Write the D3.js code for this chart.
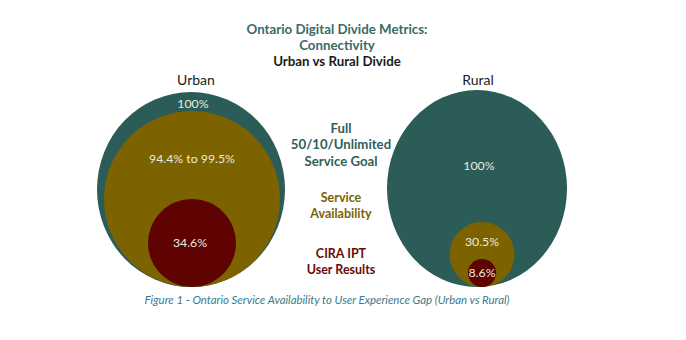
<!DOCTYPE html>
<html><head><meta charset="utf-8">
<script src="https://cdn.jsdelivr.net/npm/d3@7"></script>
<style>body{margin:0;background:#fff}svg{display:block}text{font-family:Lato,"Open Sans",sans-serif}</style>
</head><body>
<script>
// ---- data ----
const groups = ["Urban", "Rural"];
const layers = ["Full 50/10/Unlimited Service Goal", "Service Availability", "CIRA IPT User Results"];
const urbanLabels = ["100%", "94.4% to 99.5%", "34.6%"];
const ruralLabels = ["100%", "30.5%", "8.6%"];
// relative drawn radius of each circle (share of the outer circle)
const urbanSize = [1, 0.936, 0.468];
const ruralSize = [1, 0.361, 0.156];
const legendLines = [["Full", "50/10/Unlimited", "Service Goal"], ["Service", "Availability"], ["CIRA IPT", "User Results"]];
const titleLines = ["Ontario Digital Divide Metrics:", "Connectivity", "Urban vs Rural Divide"];
const caption = "Figure 1 - Ontario Service Availability to User Experience Gap (Urban vs Rural)";

const colors = ["#2b5c57", "#7c6300", "#5e0202"];
const W = 686, H = 340;
const svg = d3.select("body").append("svg").attr("width", W).attr("height", H);

// title
const titleColors = ["#3a6b66", "#3a6b66", "#1a1a1a"];
svg.selectAll("text.title").data(titleLines).join("text")
  .attr("x", 337).attr("y", (d, i) => 34 + i * 16)
  .attr("text-anchor", "middle").attr("font-weight", 700).attr("font-size", 13.3)
  .attr("fill", (d, i) => titleColors[i]).text(d => d);

const x = d3.scaleOrdinal().domain(groups).range([191, 477]);
const innerX = d3.scaleOrdinal().domain(groups).range([192, 482]);
const outerR = d3.scaleOrdinal().domain(groups).range([94, 90]);
const aspect = d3.scaleOrdinal().domain(groups).range([1.037, 1.094]);
const baseY = 287;

const charts = [
  {g: "Urban", sizes: urbanSize, labels: urbanLabels, labelY: [103, 158, 242]},
  {g: "Rural", sizes: ruralSize, labels: ruralLabels, labelY: [165, 241, 272]}
];

charts.forEach(c => {
  const r = d3.scaleLinear().domain([0, 1]).range([0, outerR(c.g)]);
  const grp = svg.append("g");
  grp.selectAll("ellipse").data(c.sizes).join("ellipse")
    .attr("cx", (d, i) => i === 0 ? x(c.g) : innerX(c.g))
    .attr("rx", d => r(d))
    .attr("ry", (d, i) => i === 0 ? r(d) * aspect(c.g) : r(d))
    .attr("cy", (d, i) => baseY - (i === 0 ? r(d) * aspect(c.g) : r(d)))
    .attr("fill", (d, i) => colors[i]);
  grp.selectAll("text").data(c.labels).join("text")
    .attr("x", (d, i) => i === 0 ? x(c.g) + 2 : innerX(c.g) - (c.g === "Urban" && i === 2 ? 2 : 0))
    .attr("y", (d, i) => c.labelY[i] + 4.5)
    .attr("text-anchor", "middle").attr("font-size", 12.3)
    .attr("fill", "#ecebdc").text(d => d);
  svg.append("text").attr("x", x(c.g) + (c.g === "Urban" ? 5 : 1)).attr("y", 85)
    .attr("text-anchor", "middle").attr("font-size", 14).attr("fill", "#1a1a1a").text(c.g);
});

// middle legend
const legendY = [128, 197, 253];
const legendColors = ["#2f5f5a", "#7a6200", "#6a0a0a"];
legendLines.forEach((lines, k) => {
  svg.selectAll("text.leg" + k).data(lines).join("text")
    .attr("x", 341).attr("y", (d, i) => legendY[k] + 4.5 + i * 16.5)
    .attr("text-anchor", "middle").attr("font-weight", 700)
    .attr("font-size", k === 0 ? 13.2 : 12.5)
    .attr("fill", legendColors[k]).text(d => d);
});

svg.append("text").attr("x", 327).attr("y", 304).attr("text-anchor", "middle")
  .attr("font-style", "italic").attr("font-size", 11.4).attr("fill", "#3c7a8a").text(caption);
</script>
</body></html>
